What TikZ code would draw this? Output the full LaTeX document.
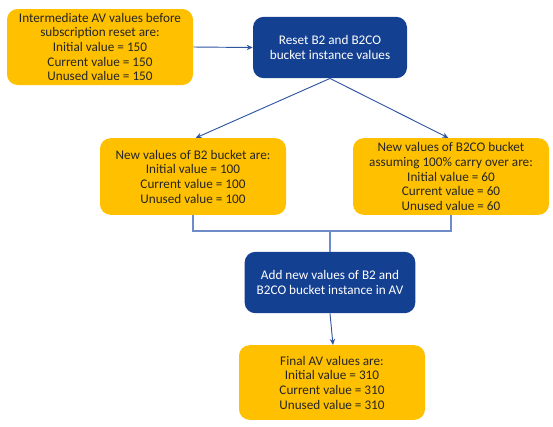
\documentclass[tikz,border=0pt]{standalone}
\usepackage{fontspec}
\setmainfont{Carlito}
\usetikzlibrary{positioning, arrows.meta}
\definecolor{avorange}{RGB}{255,192,0}
\definecolor{avblue}{RGB}{20,64,145}
\definecolor{avline}{RGB}{47,85,160}
\definecolor{avbracket}{RGB}{110,140,200}

\begin{document}
\begin{tikzpicture}[
  x=0.75pt, y=-0.75pt,
  font=\fontsize{9.9}{11}\selectfont,
  valbox/.style={fill=avorange, rounded corners=8pt, align=center,
                 text=black!85, inner sep=2pt},
  stepbox/.style={fill=avblue, rounded corners=8pt, align=center,
                  text=white, inner sep=2pt},
  flow/.style={-{Stealth[length=4.5pt, width=4pt]}, avline, line width=0.7pt},
  merge/.style={avbracket, line width=0.9pt},
]
\useasboundingbox (0,0) rectangle (553,426);

% --- Top row ---
\node[valbox, minimum width=139.5pt, minimum height=57pt] (inter) at (100,47)
  {Intermediate AV values before\\subscription reset are:\\Initial value = 150\\Current value = 150\\Unused value = 150};
\node[stepbox, minimum width=115.5pt, minimum height=46pt] (reset) at (330,47.5)
  {Reset B2 and B2CO\\bucket instance values};

% --- New bucket values ---
\node[valbox, minimum width=139.5pt, minimum height=57.5pt] (btwo) at (193,176.5)
  {New values of B2 bucket are:\\Initial value = 100\\Current value = 100\\Unused value = 100};
\node[valbox, minimum width=147pt, minimum height=57.5pt] (bco) at (451,176.5)
  {New values of B2CO bucket\\assuming 100\% carry over are:\\Initial value = 60\\Current value = 60\\Unused value = 60};

% --- Sum and result ---
\node[stepbox, minimum width=128pt, minimum height=46pt] (add) at (330,282.5)
  {Add new values of B2 and\\B2CO bucket instance in AV};
\node[valbox, minimum width=139.5pt, minimum height=56pt] (final) at (332,382.5)
  {Final AV values are:\\Initial value = 310\\Current value = 310\\Unused value = 310};

% --- Connectors ---
\draw[flow] (inter.east) -- (reset.west);
\draw[flow] (reset.south) -- ([xshift=2pt]btwo.north);
\draw[flow] (reset.south) -- ([xshift=-2pt]bco.north);
\coordinate (mid) at (add.north |- 0,231);
\draw[merge] (btwo.south) -- (btwo.south |- mid) -- (bco.south |- mid) -- (bco.south);
\draw[merge] (mid) -- (add.north);
\draw[flow] (add.south) -- ([xshift=0.75pt]final.north);

\end{tikzpicture}
\end{document}
